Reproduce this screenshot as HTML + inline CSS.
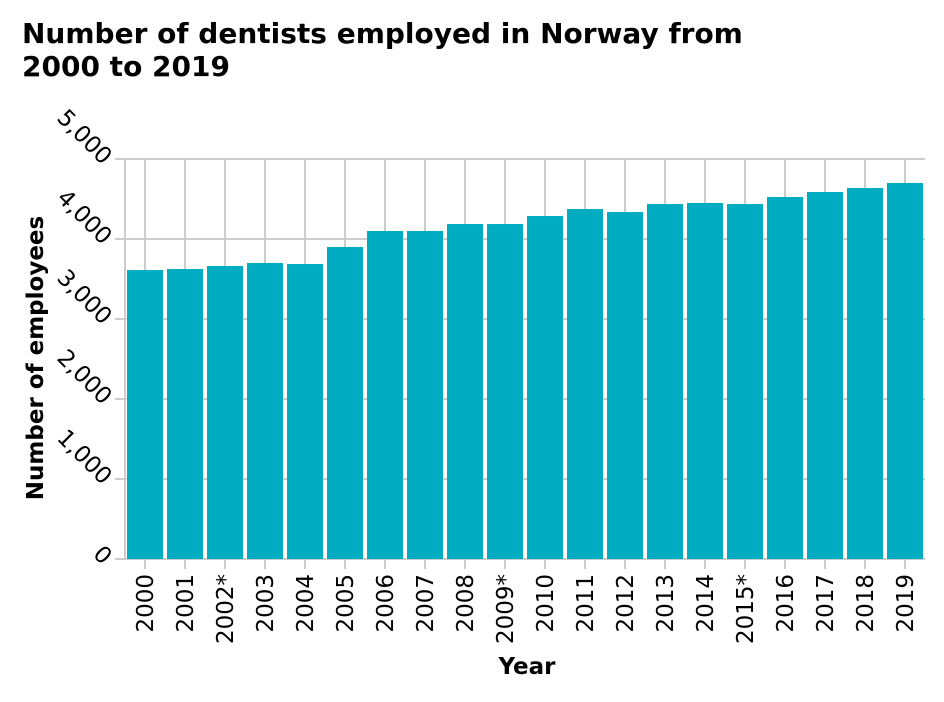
<!DOCTYPE html>
<html><head><meta charset="utf-8"><style>
body{margin:0;background:#fff;font-family:"DejaVu Sans","Liberation Sans",sans-serif}
</style></head><body>
<svg width="944" height="698" xmlns="http://www.w3.org/2000/svg" font-family="DejaVu Sans, Liberation Sans, sans-serif">
<text x="22" y="43" font-size="28" font-weight="bold">Number of dentists employed in Norway from</text>
<text x="22" y="76" font-size="28" font-weight="bold">2000 to 2019</text>
<g id="grid"></g><g id="bars"></g><g id="axes"></g>
<text x="527" y="674" font-size="23" font-weight="bold" text-anchor="middle">Year</text>
<text transform="translate(43,358) rotate(-90)" font-size="23" font-weight="bold" text-anchor="middle">Number of employees</text>
</svg>
<script>
const categories=["2000","2001","2002*","2003","2004","2005","2006","2007","2008","2009*","2010","2011","2012","2013","2014","2015*","2016","2017","2018","2019"];
const values=[3612,3625,3662,3700,3687,3900,4100,4100,4187,4187,4287,4375,4337,4437,4450,4437,4525,4587,4637,4700];
const yTicks=[0,1000,2000,3000,4000,5000];
const yTickLabels=["0","1,000","2,000","3,000","4,000","5,000"];
const NS="http://www.w3.org/2000/svg";
const L=125,R=925,T=159,B=559,yMax=5000;
const y=v=>B-(v/yMax)*(B-T);
const band=(R-L)/categories.length;
const x=i=>L+i*band;
function mk(t,a,p){const e=document.createElementNS(NS,t);for(const k in a)e.setAttribute(k,a[k]);p.appendChild(e);return e;}
const grid=document.getElementById('grid'),bars=document.getElementById('bars'),axes=document.getElementById('axes');
yTicks.forEach((v,i)=>{
 const l=mk('line',{x1:L-10,x2:R,y1:y(v),y2:y(v),stroke:'#ccc','stroke-width':2},grid);
 
 
 const t=mk('text',{transform:`translate(${L-18},${y(v)+2}) rotate(45)`,'font-size':23,'text-anchor':'end','dominant-baseline':'middle'},axes);
 t.textContent=yTickLabels[i];
 
 
});
mk('line',{x1:L,x2:L,y1:T,y2:B,stroke:'#ccc','stroke-width':2},grid);
categories.forEach((c,i)=>{
 const cx=x(i)+band/2;
 const g=mk('line',{x1:cx,x2:cx,y1:T,y2:B+10,stroke:'#ccc','stroke-width':2},grid);
 
 
 const r=mk('rect',{x:x(i)+2,y:y(values[i]),width:band-4,height:B-y(values[i]),fill:'#00acc1'},bars);
 
 
 const t=mk('text',{transform:`translate(${cx+8},${B+15}) rotate(-90)`,'font-size':23,'text-anchor':'end'},axes);
 t.textContent=c;
 
 
});
</script>
</body></html>
